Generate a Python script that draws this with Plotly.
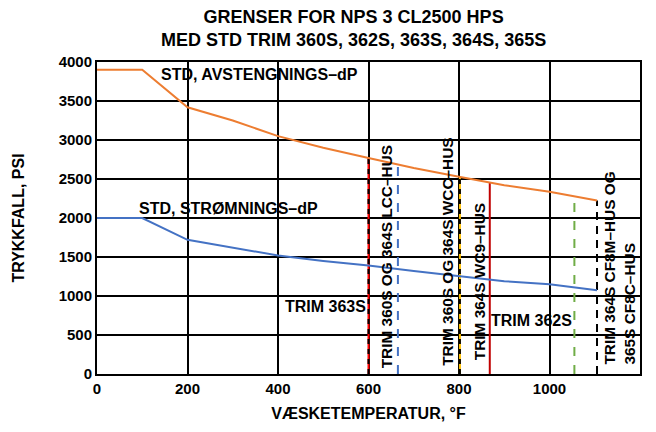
import plotly.graph_objects as go

# Data
temp = [0, 100, 200, 300, 400, 500, 600, 700, 800, 900, 1000, 1105]
shutoff_dp = [3900, 3900, 3420, 3250, 3050, 2900, 2770, 2640, 2530, 2420, 2337, 2225]
flow_dp = [2000, 2000, 1720, 1620, 1520, 1450, 1390, 1320, 1256, 1190, 1150, 1075]

limit_x = [600, 665, 802, 868, 1055, 1105]
limit_top = [2770, 2670, 2530, 2460, 2280, 2225]
limit_color = ["#FF0000", "#4472C4", "#FFC000", "#C00000", "#70AD47", "#000000"]
limit_dash = ["solid", "dash", "solid", "solid", "dash", "8px,6px"]
limit_overlay = [True, False, True, False, False, False]

x_ticks = [0, 200, 400, 600, 800, 1000, 1200]
y_ticks = [0, 500, 1000, 1500, 2000, 2500, 3000, 3500, 4000]

FONT = "Liberation Sans, Arial, sans-serif"

fig = go.Figure()

for xv, top, col, dsh, ov in zip(limit_x, limit_top, limit_color, limit_dash, limit_overlay):
    fig.add_trace(go.Scatter(x=[xv, xv], y=[0, top], mode="lines",
                             line=dict(color=col, width=2, dash=dsh),
                             showlegend=False, hoverinfo="skip"))
    if ov:
        fig.add_trace(go.Scatter(x=[xv, xv], y=[0, top], mode="lines",
                                 line=dict(color="#000000", width=2, dash="5px,5px"),
                                 showlegend=False, hoverinfo="skip"))

fig.add_trace(go.Scatter(x=temp, y=shutoff_dp, mode="lines",
                         line=dict(color="#ED7D31", width=2), showlegend=False))
fig.add_trace(go.Scatter(x=temp, y=flow_dp, mode="lines",
                         line=dict(color="#4472C4", width=2), showlegend=False))

bold = dict(family=FONT, size=16, color="black")
bold_rot = dict(family=FONT, size=15.4, color="black")

ann = [
    dict(x=360, y=3840, text="<b>STD, AVSTENGNINGS–dP</b>", textangle=0),
    dict(x=290, y=2124, text="<b>STD, STRØMNINGS–dP</b>", textangle=0),
    dict(x=505, y=863, text="<b>TRIM 363S</b>", textangle=0),
    dict(x=960, y=692, text="<b>TRIM 362S</b>", textangle=0),
    dict(x=640, y=1504, text="<b>TRIM 360S OG 364S LCC–HUS</b>", textangle=-90),
    dict(x=774, y=1570, text="<b>TRIM 360S OG 364S WCC–HUS</b>", textangle=-90),
    dict(x=844, y=1188, text="<b>TRIM 364S WC9–HUS</b>", textangle=-90),
]
for a in ann:
    fig.add_annotation(x=a["x"], y=a["y"], text=a["text"], textangle=a["textangle"],
                       showarrow=False, font=bold if a["textangle"] == 0 else bold_rot,
                       xanchor="center", yanchor="middle")
fig.add_annotation(x=1155, y=1360, text="<b>TRIM 364S CF8M–HUS OG<br>365S CF8C–HUS</b>",
                   textangle=-90, showarrow=False, font=bold_rot, align="left",
                   xanchor="center", yanchor="middle")

# Title as an annotation (multi-line handled cleanly)
fig.add_annotation(xref="paper", yref="paper", x=0.473, y=1.107,
                   text="<b>GRENSER FOR NPS 3 CL2500 HPS<br>MED STD TRIM 360S, 362S, 363S, 364S, 365S</b>",
                   showarrow=False, xanchor="center", yanchor="middle", align="center",
                   font=dict(family=FONT, size=18, color="black"))

fig.update_layout(
    width=648, height=424,
    margin=dict(l=89, r=16, t=54, b=58),
    paper_bgcolor="white", plot_bgcolor="white",
    font=dict(family=FONT, color="black"),
)
fig.update_xaxes(range=[0, 1200], tickvals=x_ticks, ticktext=[f"<b>{v}</b>" for v in x_ticks],
                 showgrid=True, gridcolor="black", gridwidth=2, zeroline=False, automargin=False,
                 showline=True, linecolor="black", linewidth=2, mirror=True,
                 tickfont=dict(family=FONT, size=15, color="black"),
                 title=dict(text="<b>VÆSKETEMPERATUR, °F</b>", font=dict(family=FONT, size=16), standoff=12))
fig.update_yaxes(range=[0, 4000], tickvals=y_ticks, ticktext=[f"<b>{v}</b>" for v in y_ticks],
                 showgrid=True, gridcolor="black", gridwidth=2, zeroline=False, automargin=False,
                 showline=True, linecolor="black", linewidth=2, mirror=True,
                 tickfont=dict(family=FONT, size=15, color="black"),
                 title=dict(text="<b>TRYKKFALL, PSI</b>", font=dict(family=FONT, size=16), standoff=30))

fig.write_html("out.html")
